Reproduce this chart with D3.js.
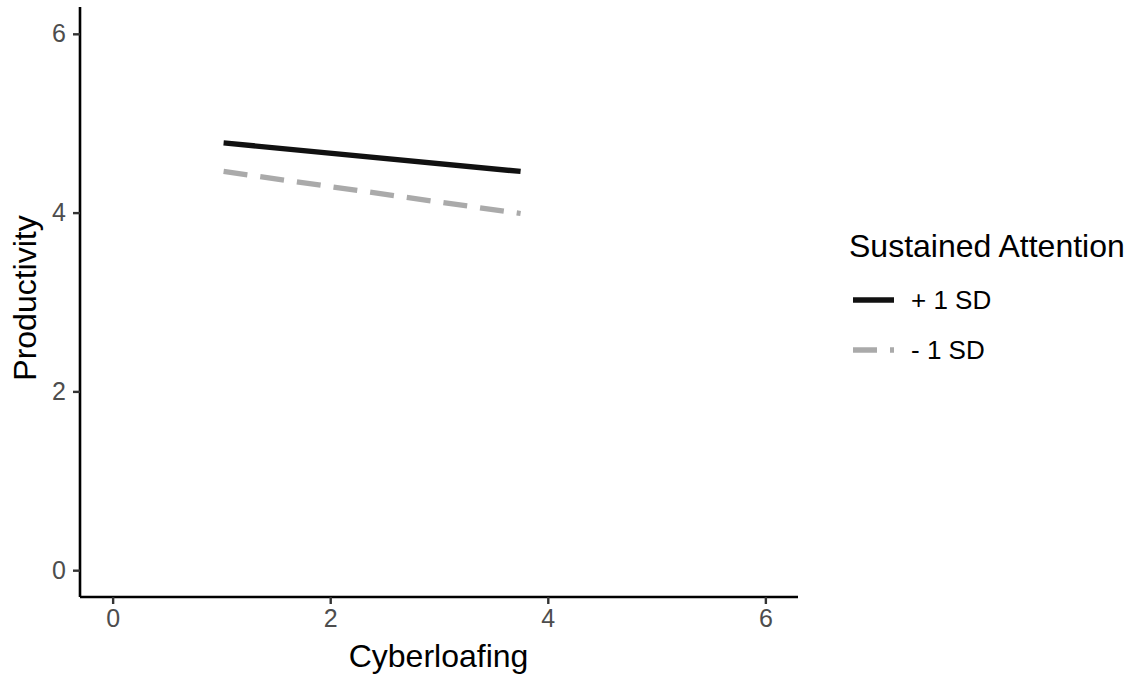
<!DOCTYPE html>
<html><head><meta charset="utf-8">
<script src="https://cdn.jsdelivr.net/npm/d3@7"></script>
<style>body{margin:0;background:#fff;} text{font-family:"Liberation Sans",Arial,sans-serif;}</style>
</head><body>
<svg id="c" width="1134" height="679"></svg>
<script>
const xTicks = [0, 2, 4, 6];
const yTicks = [0, 2, 4, 6];
const seriesNames = ["+ 1 SD", "- 1 SD"];
const xValues = [1.02, 3.75];
const plusValues = [4.78, 4.46];
const minusValues = [4.46, 3.99];
const legendTitle = "Sustained Attention";
const xTitle = "Cyberloafing";
const yTitle = "Productivity";

const svg = d3.select("#c");
const x = d3.scaleLinear().domain([-0.3, 6.3]).range([80, 798]);
const y = d3.scaleLinear().domain([-0.3, 6.3]).range([597, 7]);

const series = [
  {name: seriesNames[0], vals: plusValues, color: "#111111", dash: null},
  {name: seriesNames[1], vals: minusValues, color: "#aaaaaa", dash: "24,13"}
];
const line = d3.line().x(d => x(d[0])).y(d => y(d[1]));
series.forEach(s => {
  svg.append("path").datum(xValues.map((v, i) => [v, s.vals[i]]))
    .attr("d", line).attr("fill", "none").attr("stroke", s.color)
    .attr("stroke-width", 5.3).attr("stroke-dasharray", s.dash);
});

const xAxis = svg.append("g").attr("transform", "translate(0,597)")
  .call(d3.axisBottom(x).tickValues(xTicks).tickSize(7).tickPadding(5).tickFormat(d3.format("d")));
const yAxis = svg.append("g").attr("transform", "translate(80,0)")
  .call(d3.axisLeft(y).tickValues(yTicks).tickSize(7).tickPadding(7).tickFormat(d3.format("d")));
[xAxis, yAxis].forEach(a => {
  a.select(".domain").attr("stroke", "#000").attr("stroke-width", 2.6);
  a.selectAll(".tick line").attr("stroke", "#333").attr("stroke-width", 2.4);
  a.selectAll(".tick text").attr("fill", "#4d4d4d").style("font-size", "25px")
    .style("font-family", "Liberation Sans, Arial, sans-serif");
});
xAxis.select(".domain").attr("d", "M80,0H798");
yAxis.select(".domain").attr("d", "M0,7V597");

svg.append("text").attr("x", 438.5).attr("y", 667).attr("text-anchor", "middle")
  .style("font-size", "32px").attr("fill", "#000").text(xTitle);
svg.append("text").attr("transform", "translate(36,298) rotate(-90)").attr("text-anchor", "middle")
  .style("font-size", "32px").attr("fill", "#000").text(yTitle);

svg.append("text").attr("x", 849).attr("y", 257).style("font-size", "32px").attr("fill", "#000").text(legendTitle);
series.forEach((s, i) => {
  const ky = 300 + i * 50;
  svg.append("line").attr("x1", 853).attr("x2", 894).attr("y1", ky).attr("y2", ky)
    .attr("stroke", s.color).attr("stroke-width", 5.3).attr("stroke-dasharray", s.dash);
  svg.append("text").attr("x", 911).attr("y", ky + 9).style("font-size", "26px").attr("fill", "#000").text(s.name);
});
</script>
</body></html>
